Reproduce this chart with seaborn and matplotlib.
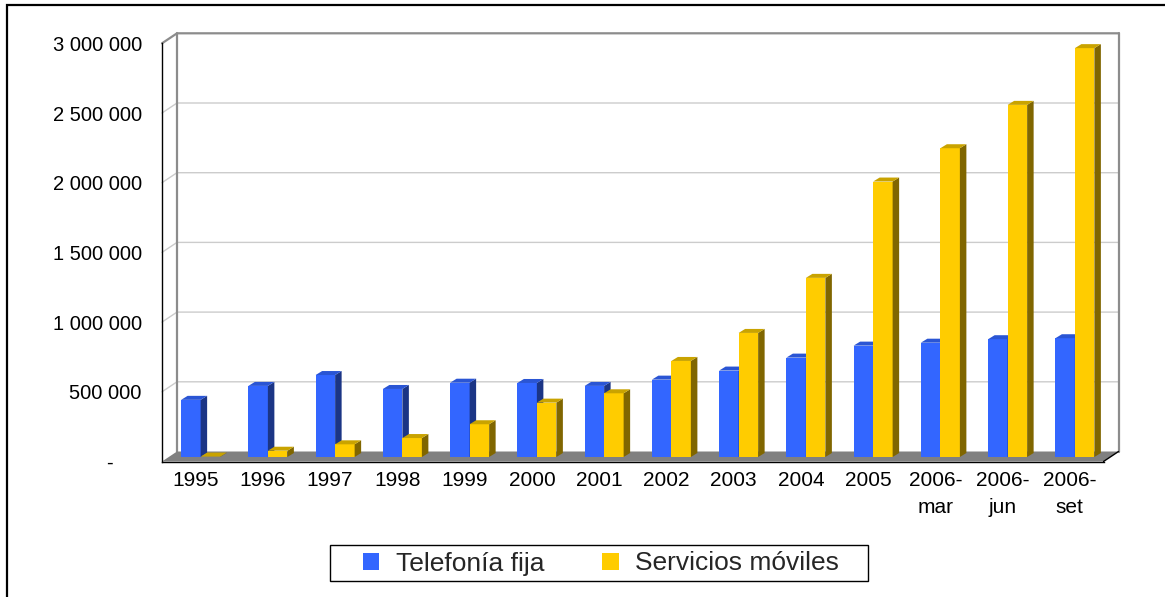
import matplotlib
matplotlib.use('Agg')

import matplotlib.pyplot as plt
from matplotlib.patches import Polygon, Patch, Rectangle
import pandas as pd
import seaborn as sns


# data
periodos = ['1995', '1996', '1997', '1998', '1999', '2000', '2001', '2002',
	'2003', '2004', '2005', '2006-\nmar', '2006-\njun', '2006-\nset']
fija = [410000, 510000, 588000, 488000, 533000, 531000, 510000, 555000,
	620000, 713000, 799000, 820000, 845000, 852000]
moviles = [3000, 45000, 91000, 136000, 235000, 390000, 457000, 689000,
	890000, 1285000, 1976000, 2215000, 2526000, 2933000]
series = ['Telefonía fija', 'Servicios móviles']
yticks = [0, 500000, 1000000, 1500000, 2000000, 2500000, 3000000]

# front / side / top shades of each series
colors = {
	'Telefonía fija': ('#3366FF', '#1B3585', '#2A55D4'),
	'Servicios móviles': ('#FFCC00', '#806600', '#C9A300'),
}



def fmt_tick(v):
	if v == 0:
		return '-     '
	return f'{v:,.0f}'.replace(',', ' ')



if __name__ == '__main__':
	sns.set_theme(style='white')
	plt.rcParams['font.family'] = ['Liberation Sans', 'DejaVu Sans']

	W, H = 1165, 597
	fig = plt.figure(figsize=(W / 100, H / 100), dpi=100)
	fig.patch.set_facecolor('white')

	# front plane of the 3-D box, in pixels
	left, right, top, bottom = 162, 1103.5, 43.3, 461.5
	ax = fig.add_axes([left / W, 1 - bottom / H, (right - left) / W, (bottom - top) / H])
	ax.set_facecolor('none')

	df = pd.DataFrame({
		'periodo': periodos * 2,
		'valor': fija + moviles,
		'serie': [series[0]] * len(periodos) + [series[1]] * len(periodos),
	})

	sns.barplot(
		data=df, x='periodo', y='valor', hue='serie', hue_order=series,
		palette=[colors[s][0] for s in series], width=0.58, saturation=1,
		linewidth=0, legend=False, ax=ax)

	n = len(periodos)
	bars = list(ax.patches)[-2 * n:]
	ymax = yticks[-1]
	ax.set_xlim(-0.5, n - 0.5)
	ax.set_ylim(0, ymax)

	# pixel -> data conversion
	px_x = n / (right - left)
	px_y = ymax / (bottom - top)

	DX, DY = 15 * px_x, 10 * px_y      # depth of the box
	BX, BY = 5 * px_x, 4.5 * px_y      # bars sit inside the floor
	SX, SY = 6.5 * px_x, 4 * px_y      # depth of each bar

	# floor
	ax.add_patch(Polygon(
		[(-0.5, 0), (n - 0.5, 0), (n - 0.5 + DX, DY), (-0.5 + DX, DY)],
		closed=True, facecolor='#808080', edgecolor='none', clip_on=False, zorder=1))

	# grid on side and back walls
	for v in yticks[1:]:
		last = v == ymax
		ax.plot([-0.5, -0.5 + DX, n - 0.5 + DX], [v, v + DY, v + DY],
			color='#8C8C8C' if last else '#CCCCCC', lw=1.6 if last else 1,
			clip_on=False, zorder=0.5)
	ax.plot([-0.5 + DX] * 2, [DY, ymax + DY], color='#8C8C8C', lw=1.6, clip_on=False, zorder=0.6)
	ax.plot([n - 0.5 + DX] * 2, [DY, ymax + DY], color='#8C8C8C', lw=1.6, clip_on=False, zorder=0.6)
	ax.plot([n - 0.5, n - 0.5 + DX], [0, DY], color='black', lw=1, clip_on=False, zorder=2)

	# give each bar a side and a top face
	for k, p in enumerate(bars):
		s = series[k // n]
		front, side, topc = colors[s]
		z = 3 + (k // n)
		p.set_x(p.get_x() + BX)
		p.set_y(BY)
		p.set_zorder(z)
		p.set_clip_on(False)
		x0, w, y0, h = p.get_x(), p.get_width(), p.get_y(), p.get_height()
		ax.add_patch(Polygon(
			[(x0 + w, y0), (x0 + w, y0 + h), (x0 + w + SX, y0 + h + SY), (x0 + w + SX, y0 + SY)],
			closed=True, facecolor=side, edgecolor='none', clip_on=False, zorder=z + 0.1))
		ax.add_patch(Polygon(
			[(x0, y0 + h), (x0 + w, y0 + h), (x0 + w + SX, y0 + h + SY), (x0 + SX, y0 + h + SY)],
			closed=True, facecolor=topc, edgecolor='none', clip_on=False, zorder=z + 0.2))

	# axes and ticks
	for sp in ['top', 'right']:
		ax.spines[sp].set_visible(False)
	for sp in ['left', 'bottom']:
		ax.spines[sp].set_color('black')
		ax.spines[sp].set_linewidth(1)
		ax.spines[sp].set_zorder(2)

	ax.set_yticks(yticks, labels=[fmt_tick(v) for v in yticks])
	ax.set_xticks([i - 0.5 for i in range(n + 1)], labels=[''] * (n + 1))
	ax.set_xticks(range(n), labels=periodos, minor=True)
	ax.tick_params(axis='both', which='major', direction='out', length=5, width=1,
		color='black', labelsize=14.5, labelcolor='black')
	ax.tick_params(axis='y', pad=9.5)
	ax.tick_params(axis='x', which='minor', length=0, pad=7, labelsize=15, labelcolor='black')
	for lbl in ax.get_xticklabels(minor=True):
		lbl.set_linespacing(1.55)
	ax.set_xlabel('')
	ax.set_ylabel('')
	ax.grid(False)

	# legend, with its box drawn separately to match the original size
	handles = [Patch(facecolor=colors[s][0], edgecolor='none', label=s) for s in series]
	fig.legend(
		handles=handles, loc='center', bbox_to_anchor=(601 / W, 1 - 563.5 / H),
		ncol=2, frameon=False, fontsize=19, handlelength=0.62, handleheight=0.62,
		handletextpad=0.62, columnspacing=2.2, borderpad=0.2, borderaxespad=0)
	fig.add_artist(Rectangle((330 / W, 1 - 581 / H), 538 / W, 36 / H,
		transform=fig.transFigure, fill=False, edgecolor='black', lw=1))

	# chart border (only top and left edges are inside the picture)
	fig.add_artist(Rectangle((6.5 / W, -0.1), 1.2, 1.1 - 5 / H, transform=fig.transFigure,
		fill=False, edgecolor='black', lw=1.6))

	fig.savefig('out.png', dpi=100)
	plt.close()
